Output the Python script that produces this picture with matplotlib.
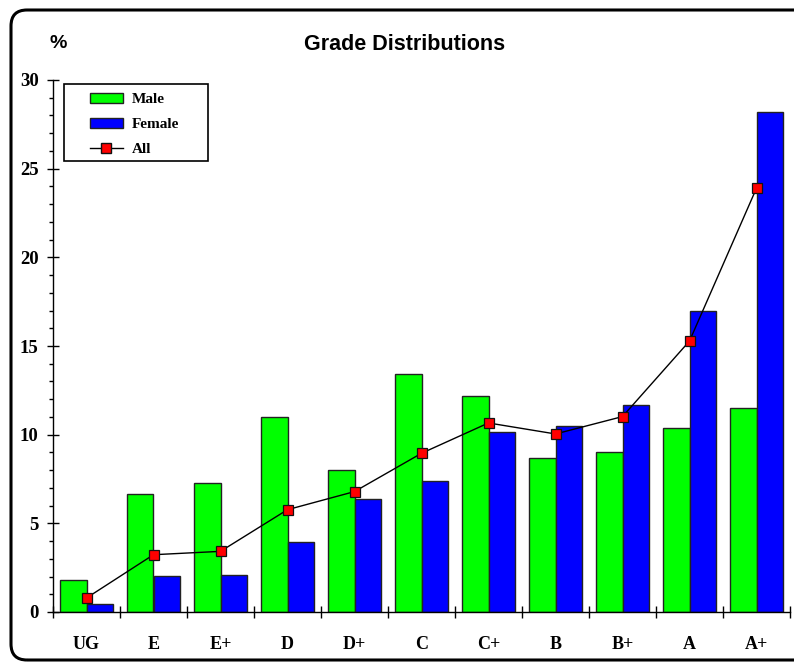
import matplotlib
matplotlib.use("Agg")
import matplotlib.pyplot as plt
from matplotlib.patches import FancyBboxPatch, Rectangle, Patch
from matplotlib.lines import Line2D
from matplotlib.transforms import IdentityTransform
import numpy as np

categories = ["UG", "E", "E+", "D", "D+", "C", "C+", "B", "B+", "A", "A+"]
male = [1.8, 6.65, 7.26, 11.0, 8.0, 13.4, 12.18, 8.69, 9.04, 10.4, 11.49]
female = [0.45, 2.05, 2.1, 3.95, 6.37, 7.39, 10.13, 10.5, 11.7, 16.98, 28.22]
all_ = [0.79, 3.23, 3.42, 5.77, 6.79, 8.95, 10.66, 10.04, 11.02, 15.28, 23.9]

W, H, DPI = 794, 663, 100
fig = plt.figure(figsize=(W / DPI, H / DPI), dpi=DPI)

def fx(px):
    return px / W

def fy(py):
    return 1 - py / H

ax_l, ax_r, ax_t, ax_b = 53, 790, 80, 612
ax = fig.add_axes([fx(ax_l), fy(ax_b), fx(ax_r - ax_l), (ax_b - ax_t) / H])

serif = "Liberation Serif"
sans = "Liberation Sans"

n = len(categories)
idx = np.arange(n)
ax.bar(idx + 0.1, male, width=0.4, align="edge", color="#00ff00",
       edgecolor="#222222", linewidth=1.0, zorder=2)
ax.bar(idx + 0.5, female, width=0.4, align="edge", color="#0000ff",
       edgecolor="#222222", linewidth=1.0, zorder=2)
ax.plot(idx + 0.5, all_, color="black", linewidth=1.0, marker="s",
        markersize=7.5, markerfacecolor="#ff0000", markeredgecolor="#111111",
        markeredgewidth=0.9, zorder=3)

ax.set_xlim(0, n)
ax.set_ylim(0, 30)
for s in ["top", "right"]:
    ax.spines[s].set_visible(False)
for s in ["left", "bottom"]:
    ax.spines[s].set_linewidth(1.0)
    ax.spines[s].set_color("black")

ax.set_xticks(np.arange(0, n + 1))
ax.set_xticklabels([])
ax.set_xticks(idx + 0.5, minor=True)
ax.set_xticklabels(categories, minor=True, fontfamily=serif,
                   fontweight="bold", fontsize=13)
ax.tick_params(axis="x", which="major", direction="inout", length=8.6,
               width=1.0)
ax.tick_params(axis="x", which="minor", length=0, pad=17)

ax.set_yticks([0, 5, 10, 15, 20, 25, 30])
ax.set_yticks(np.arange(0, 31, 1), minor=True)
ax.set_yticklabels(["0", "5", "10", "15", "20", "25", "30"],
                   fontfamily=serif, fontweight="bold", fontsize=13.5)
ax.tick_params(axis="y", which="major", direction="inout", length=8.6,
               width=1.0, pad=6)
ax.tick_params(axis="y", which="minor", direction="out", length=3,
               width=1.0)

# Title and unit
fig.text(fx(405), fy(44), "Grade Distributions", fontfamily=sans,
         fontweight="bold", fontsize=15.5, ha="center", va="center")
fig.text(fx(58.5), fy(44), "%", fontfamily=sans, fontweight="bold",
         fontsize=14, ha="center", va="center")

# Legend
handles = [
    Patch(facecolor="#00ff00", edgecolor="#222222", linewidth=1.0),
    Patch(facecolor="#0000ff", edgecolor="#222222", linewidth=1.0),
    Line2D([0], [0], color="black", linewidth=1.0, marker="s",
           markersize=7.5, markerfacecolor="#ff0000",
           markeredgecolor="#111111"),
]
leg = fig.legend(handles, ["Male", "Female", "All"], loc="upper left",
                 bbox_to_anchor=(fx(90), fy(93)), frameon=False,
                 borderpad=0, borderaxespad=0, handlelength=2.15,
                 handleheight=0.6, handletextpad=0.6, labelspacing=0.77,
                 prop={"family": serif, "weight": "bold", "size": 11})
fig.patches.append(Rectangle((fx(64), fy(161)), fx(208 - 64), (161 - 84) / H,
                             transform=fig.transFigure, fill=False,
                             edgecolor="black", linewidth=1.2, zorder=5))

# Rounded frame around the figure
frame = FancyBboxPatch((11, 3), 820, 650,
                       boxstyle="round,pad=0,rounding_size=16",
                       transform=IdentityTransform(), fill=False,
                       edgecolor="black", linewidth=2.2)
fig.patches.append(frame)

fig.savefig("out.png", dpi=DPI)
